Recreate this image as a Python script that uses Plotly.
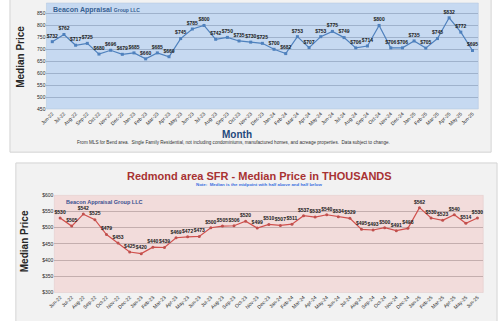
import plotly.graph_objects as go

months = ["Jun-22","Jul-22","Aug-22","Sep-22","Oct-22","Nov-22","Dec-22",
          "Jan-23","Feb-23","Mar-23","Apr-23","May-23","Jun-23","Jul-23","Aug-23","Sep-23","Oct-23","Nov-23","Dec-23",
          "Jan-24","Feb-24","Mar-24","Apr-24","May-24","Jun-24","Jul-24","Aug-24","Sep-24","Oct-24","Nov-24","Dec-24",
          "Jan-25","Feb-25","Mar-25","Apr-25","May-25","Jun-25"]

bend_values = [732,762,717,725,680,696,679,685,660,685,669,745,785,800,742,750,735,730,725,
               700,682,753,707,753,775,749,706,714,800,706,706,735,705,745,832,772,695]

redmond_values = [530,505,542,525,479,453,425,420,440,439,469,472,473,500,505,506,520,499,510,
                  507,511,537,533,540,534,529,495,493,500,491,498,562,530,523,540,514,530]

W, H = 500, 321
def px(x): return x / W
def py(y): return 1 - y / H

fig = go.Figure()

labfont = dict(family="Liberation Sans Narrow, Arial Narrow, Arial", size=5, color="#1a1a1a")

fig.add_trace(go.Scatter(
    x=months, y=bend_values, mode="lines+markers+text",
    line=dict(color="#4f81bd", width=1.2),
    marker=dict(symbol="square", size=3, color="#4f81bd"),
    text=["<b>$%d</b>" % v for v in bend_values], textposition="top center",
    textfont=labfont, xaxis="x", yaxis="y", showlegend=False, cliponaxis=False))

fig.add_trace(go.Scatter(
    x=months, y=redmond_values, mode="lines+markers+text",
    line=dict(color="#d0504d", width=1.2),
    marker=dict(symbol="circle", size=3, color="#c0504d"),
    text=["<b>$%d</b>" % v for v in redmond_values], textposition="top center",
    textfont=labfont, xaxis="x2", yaxis="y2", showlegend=False, cliponaxis=False))

tickfont = dict(family="Arial", size=5, color="#262626")

fig.update_layout(
    width=W, height=H, margin=dict(l=0, r=0, t=0, b=0),
    paper_bgcolor="white", plot_bgcolor="rgba(0,0,0,0)",
    font=dict(family="Arial"),
    xaxis=dict(domain=[px(40), px(478)], anchor="y", type="category",
               range=[-0.5, 36.5], tickangle=-45, tickfont=tickfont,
               showgrid=False, ticks="", showline=False),
    yaxis=dict(domain=[py(108), 1.0], anchor="x", range=[450, 894],
               tickvals=[450,500,550,600,650,700,750,800,850,900], tickprefix="$",
               tickfont=tickfont, gridcolor="#9fb2cc", gridwidth=1, zeroline=False,
               showline=False, ticks=""),
    xaxis2=dict(domain=[px(48), px(483)], anchor="y2", type="category",
                range=[-0.5, 36.5], tickangle=-45, tickfont=tickfont,
                showgrid=False, ticks="", showline=False),
    yaxis2=dict(domain=[py(295), py(196)], anchor="x2", range=[300, 600],
                dtick=50, tickprefix="$", tickfont=tickfont,
                gridcolor="#c4aeae", gridwidth=1, zeroline=False, showline=False, ticks=""),
)

shapes = [
    dict(type="rect", xref="paper", yref="paper", x0=px(3), x1=px(491), y0=py(152), y1=1.02,
         fillcolor="#f2f2f2", line=dict(color="#d4d4d4", width=1), layer="below"),
    dict(type="rect", xref="paper", yref="paper", x0=px(9), x1=px(497), y0=-0.02, y1=py(163),
         fillcolor="#f2f2f2", line=dict(color="#d4d4d4", width=1), layer="below"),
    dict(type="rect", xref="paper", yref="paper", x0=px(40), x1=px(478), y0=py(108), y1=1.0,
         fillcolor="#c6d9f1", line=dict(color="#b0c4de", width=0.5), layer="below"),
    dict(type="rect", xref="paper", yref="paper", x0=px(48), x1=px(483), y0=py(295), y1=py(196),
         fillcolor="#f2dcdb", line=dict(color="#e0c8c8", width=0.5), layer="below"),
]
fig.update_layout(shapes=shapes)

ann = [
    dict(x=px(45), y=py(7), xanchor="left", yanchor="middle",
         text="<b>Beacon Appraisal</b> <span style='font-size:5px'><b>Group LLC</b></span>",
         font=dict(family="Arial", size=7, color="#365f91")),
    dict(x=px(14), y=py(55), xanchor="center", yanchor="middle", textangle=-90,
         text="<b>Median Price</b>", font=dict(family="Arial", size=10, color="#262626")),
    dict(x=px(233), y=py(134), xanchor="center", yanchor="middle",
         text="<b>Month</b>", font=dict(family="Arial", size=10, color="#1f497d")),
    dict(x=px(230), y=py(142.5), xanchor="center", yanchor="middle",
         text="From MLS for Bend area.  Single Family Residential, not including condominiums, manufactured homes, and acreage properties.  Data subject to change.",
         font=dict(family="Arial", size=4.6, color="#333333")),
    dict(x=px(256), y=py(176), xanchor="center", yanchor="middle",
         text="<b>Redmond area SFR - Median Price in THOUSANDS</b>",
         font=dict(family="Arial", size=11, color="#a83232")),
    dict(x=px(256), y=py(184.5), xanchor="center", yanchor="middle",
         text="<b>Note:  Median is the midpoint with half above and half below</b>",
         font=dict(family="Arial", size=4.4, color="#3a6fe0")),
    dict(x=px(58), y=py(203), xanchor="left", yanchor="middle",
         text="<b>Beacon Appraisal Group LLC</b>",
         font=dict(family="Arial", size=5.5, color="#3a4f8f")),
    dict(x=px(18), y=py(243), xanchor="center", yanchor="middle", textangle=-90,
         text="<b>Median Price</b>", font=dict(family="Arial", size=10, color="#262626")),
]
for a in ann:
    a.update(xref="paper", yref="paper", showarrow=False)
fig.update_layout(annotations=ann)

fig.write_html("out.html")
